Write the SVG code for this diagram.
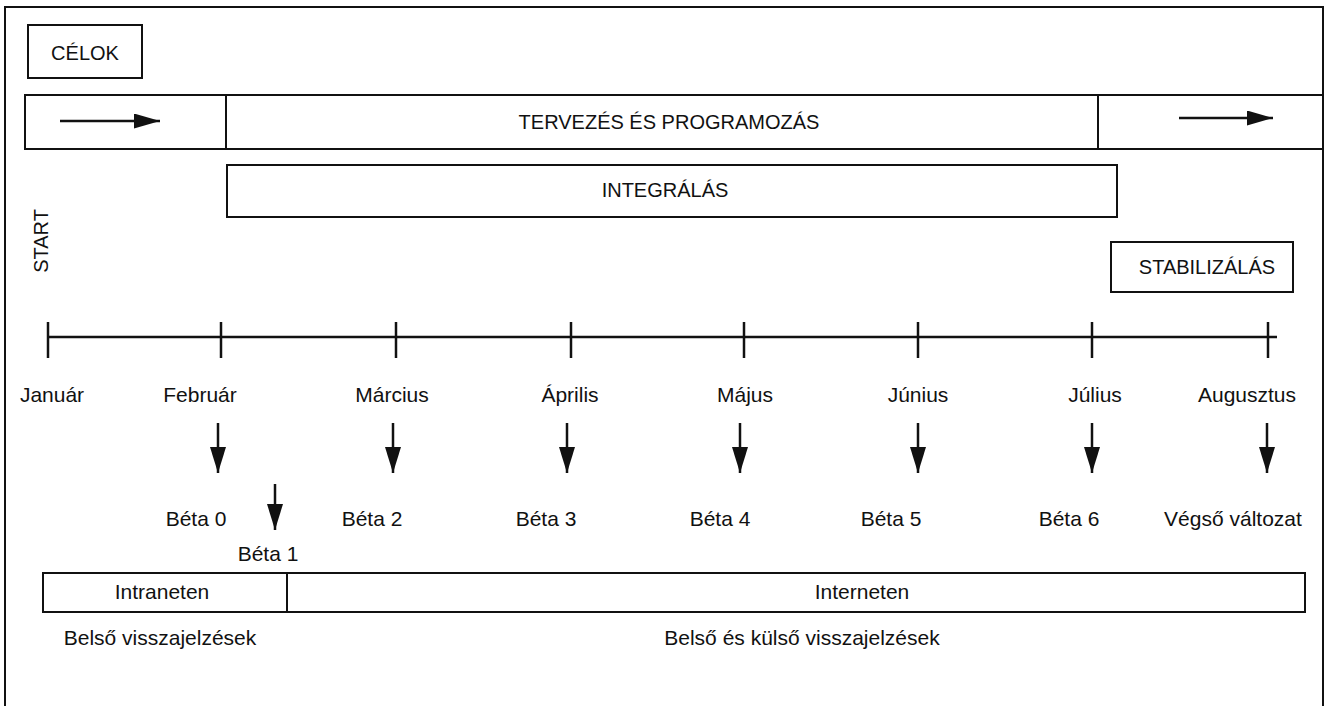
<svg xmlns="http://www.w3.org/2000/svg" width="1330" height="709" viewBox="0 0 1330 709">
  <style>
    .box { fill: none; stroke: #111; stroke-width: 2; }
    .ln { stroke: #111; stroke-width: 2.5; fill: none; }
    .t { font-family: "Liberation Sans", Arial, sans-serif; font-size: 21px; fill: #111; text-anchor: middle; }
    .cap { font-size: 20px; }
    .arr { stroke: #111; stroke-width: 2.5; fill: none; marker-end: url(#ah); }
    .arrh { stroke: #111; stroke-width: 2.5; fill: none; marker-end: url(#ahh); }
  </style>
  <defs>
    <marker id="ah" markerUnits="userSpaceOnUse" markerWidth="16" markerHeight="26" viewBox="0 0 16 26" refX="8" refY="26" orient="0">
      <path d="M0,0 L16,0 L8,26 Z" fill="#111"/>
    </marker>
    <marker id="ahh" markerUnits="userSpaceOnUse" markerWidth="26" markerHeight="15" viewBox="0 0 26 15" refX="26" refY="7.5" orient="0">
      <path d="M0,0 L26,7.5 L0,15 Z" fill="#111"/>
    </marker>
  </defs>
  <rect width="1330" height="709" fill="#fff"/>

  <g id="frame">
    <path class="box" d="M5,706 L5,7 L1323,7 L1323,706"/>
  </g>

  <g id="celok">
    <rect class="box" x="28" y="25" width="114" height="53"/>
    <text class="t cap" x="85" y="60">CÉLOK</text>
  </g>

  <g id="tervezes">
    <rect class="box" x="25" y="95" width="1298" height="54"/>
    <line class="box" x1="226" y1="95" x2="226" y2="149"/>
    <line class="box" x1="1098" y1="95" x2="1098" y2="149"/>
    <text class="t cap" x="669" y="129">TERVEZÉS ÉS PROGRAMOZÁS</text>
  </g>

  <g id="integralas">
    <rect class="box" x="227" y="165" width="890" height="52"/>
    <text class="t cap" x="665" y="197">INTEGRÁLÁS</text>
  </g>

  <g id="start">
    <text class="t cap" x="0" y="0" transform="translate(48,241) rotate(-90)">START</text>
  </g>

  <g id="stabilizalas">
    <rect class="box" x="1111" y="242" width="182" height="50"/>
    <text class="t cap" x="1207" y="274">STABILIZÁLÁS</text>
  </g>

  <g id="timeline">
    <line class="ln" x1="48" y1="337" x2="1277" y2="337"/>
    <line class="ln" x1="48" y1="322" x2="48" y2="358"/>
    <line class="ln" x1="221" y1="322" x2="221" y2="358"/>
    <line class="ln" x1="396" y1="322" x2="396" y2="358"/>
    <line class="ln" x1="571" y1="322" x2="571" y2="358"/>
    <line class="ln" x1="744" y1="322" x2="744" y2="358"/>
    <line class="ln" x1="918" y1="322" x2="918" y2="358"/>
    <line class="ln" x1="1092" y1="322" x2="1092" y2="358"/>
    <line class="ln" x1="1268" y1="322" x2="1268" y2="358"/>
  </g>

  <g id="months">
    <text class="t" x="52" y="402">Január</text>
    <text class="t" x="200" y="402">Február</text>
    <text class="t" x="392" y="402">Március</text>
    <text class="t" x="570" y="402">Április</text>
    <text class="t" x="745" y="402">Május</text>
    <text class="t" x="918" y="402">Június</text>
    <text class="t" x="1095" y="402">Július</text>
    <text class="t" x="1247" y="402">Augusztus</text>
  </g>

  <g id="connectors">
    <line class="arrh" x1="60" y1="121" x2="160" y2="121"/>
    <line class="arrh" x1="1179" y1="118" x2="1273" y2="118"/>
    <line class="arr" x1="218" y1="423" x2="218" y2="473"/>
    <line class="arr" x1="393" y1="423" x2="393" y2="473"/>
    <line class="arr" x1="567" y1="423" x2="567" y2="473"/>
    <line class="arr" x1="740" y1="423" x2="740" y2="473"/>
    <line class="arr" x1="918" y1="423" x2="918" y2="473"/>
    <line class="arr" x1="1092" y1="423" x2="1092" y2="473"/>
    <line class="arr" x1="1267" y1="423" x2="1267" y2="473"/>
    <line class="arr" x1="275" y1="484" x2="275" y2="530"/>
  </g>

  <g id="betas">
    <text class="t" x="196" y="526">Béta 0</text>
    <text class="t" x="268" y="561">Béta 1</text>
    <text class="t" x="372" y="526">Béta 2</text>
    <text class="t" x="546" y="526">Béta 3</text>
    <text class="t" x="720" y="526">Béta 4</text>
    <text class="t" x="891" y="526">Béta 5</text>
    <text class="t" x="1069" y="526">Béta 6</text>
    <text class="t" x="1233" y="526">Végső változat</text>
  </g>

  <g id="network">
    <rect class="box" x="43" y="573" width="1262" height="39"/>
    <line class="box" x1="287" y1="573" x2="287" y2="612"/>
    <text class="t" x="162" y="599">Intraneten</text>
    <text class="t" x="862" y="599">Interneten</text>
  </g>

  <g id="feedback">
    <text class="t" x="160" y="645">Belső visszajelzések</text>
    <text class="t" x="802" y="645">Belső és külső visszajelzések</text>
  </g>
</svg>
